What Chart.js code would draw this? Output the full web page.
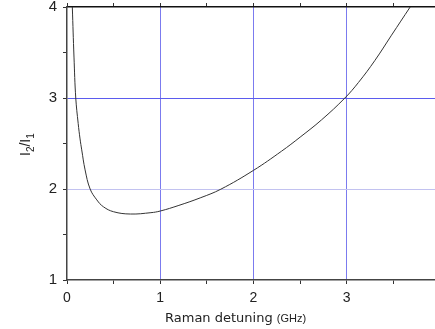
<!DOCTYPE html>
<html>
<head>
<meta charset="utf-8">
<script src="https://cdn.jsdelivr.net/npm/chart.js@4"></script>
<style>
  html, body { margin: 0; padding: 0; background: #fff; overflow: hidden; }
  #wrap { width: 440px; height: 329px; }
</style>
</head>
<body>
<div id="wrap"><canvas id="ratio-chart" width="440" height="329"></canvas></div>
<script>
// detuning in GHz
var detuning = [0.057, 0.075, 0.094, 0.12, 0.14, 0.158, 0.194, 0.248, 0.32, 0.39, 0.5, 0.68, 0.9, 1.0, 1.2, 1.435, 1.65, 2.0, 2.3, 2.5, 2.73, 2.98, 3.125, 3.3, 3.48, 3.68];
// intensity ratio I2/I1
var ratio = [4.0, 3.45, 3.0, 2.72, 2.55, 2.43, 2.21, 2.0, 1.88, 1.805, 1.75, 1.725, 1.74, 1.758, 1.82, 1.905, 1.998, 2.205, 2.415, 2.57, 2.76, 3.0, 3.17, 3.41, 3.69, 4.0];
var xTicks = [0, 1, 2, 3, 4];
var yTicks = [1, 2, 3, 4];

var points = detuning.map(function(d, i) { return {x: d, y: ratio[i]}; });

// axis titles (need subscripts and mixed sizes, so drawn by hand)
var titles = {
    id: 'titles',
    afterDraw: function(chart) {
        var ctx = chart.ctx;
        ctx.save();
        ctx.fillStyle = '#222';
        ctx.textBaseline = 'alphabetic';
        ctx.font = '13px "DejaVu Sans"';
        ctx.fillText('Raman detuning', 165, 322);
        var w = ctx.measureText('Raman detuning ').width;
        ctx.font = '11px "Liberation Sans"';
        ctx.fillText('(GHz)', 165 + w, 322);

        ctx.translate(30, 156);
        ctx.rotate(-Math.PI / 2);
        var x = 0;
        var parts = [['I', 14, 0], ['2', 10, 4], ['/I', 14, 0], ['1', 10, 4]];
        parts.forEach(function(p) {
            ctx.font = p[1] + 'px "Liberation Sans"';
            ctx.fillText(p[0], x, p[2]);
            x += ctx.measureText(p[0]).width;
        });
        ctx.restore();
    }
};

function noPad(s) {
    s.paddingTop = 0; s.paddingBottom = 0; s.paddingLeft = 0; s.paddingRight = 0;
}

new Chart(document.getElementById('ratio-chart'), {
    type: 'line',
    data: {
        datasets: [{
            data: points,
            borderColor: '#333',
            borderWidth: 1,
            pointRadius: 0,
            fill: false,
            tension: 0.4
        }]
    },
    options: {
        responsive: false,
        animation: false,
        layout: { padding: 0 },
        plugins: { legend: { display: false }, tooltip: { enabled: false } },
        scales: {
            x: {
                type: 'linear', position: 'bottom', min: 0, max: 4,
                afterFit: function(s) { s.height = 49; noPad(s); },
                border: { color: '#444', width: 1.5 },
                grid: {
                    tickLength: 4,
                    tickColor: '#333',
                    color: function(c) {
                        var v = c.tick ? c.tick.value : -1;
                        return (v > 0 && v < 4 && xTicks.indexOf(v) >= 0) ? '#7b7bef' : 'rgba(0,0,0,0)';
                    }
                },
                ticks: {
                    stepSize: 0.5, padding: 6, color: '#222', maxRotation: 0, autoSkip: false,
                    font: { family: 'Liberation Sans', size: 14 },
                    callback: function(v) { return xTicks.indexOf(v) >= 0 ? v : ''; }
                }
            },
            xTop: {
                type: 'linear', position: 'top', min: 0, max: 4,
                afterFit: function(s) { s.height = 7; noPad(s); },
                border: { color: '#111', width: 1.5 },
                grid: { drawOnChartArea: false, tickLength: 4, tickColor: '#333' },
                ticks: { stepSize: 0.5, display: false, autoSkip: false }
            },
            y: {
                type: 'linear', min: 1, max: 4,
                afterFit: function(s) { s.width = 67; noPad(s); },
                border: { color: '#444', width: 1.5 },
                grid: {
                    tickLength: 4,
                    tickColor: '#333',
                    color: function(c) {
                        var v = c.tick ? c.tick.value : -1;
                        if (v === 3) return '#5b5bee';
                        if (v === 2) return '#c2c2f0';
                        return 'rgba(0,0,0,0)';
                    }
                },
                ticks: {
                    stepSize: 0.5, padding: 6, color: '#222', autoSkip: false,
                    font: { family: 'Liberation Sans', size: 15 },
                    callback: function(v) { return yTicks.indexOf(v) >= 0 ? v : ''; }
                }
            }
        }
    },
    plugins: [titles]
});
</script>
</body>
</html>
